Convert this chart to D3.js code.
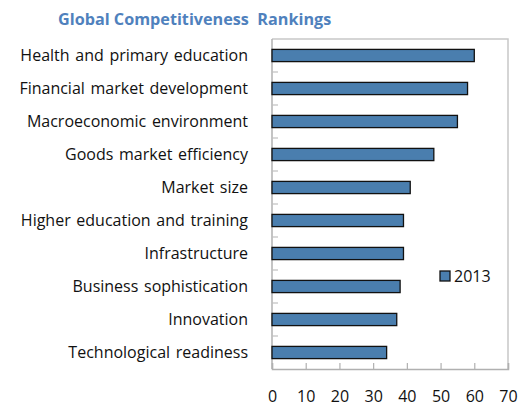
<!DOCTYPE html>
<html><head><meta charset="utf-8">
<script src="https://cdn.jsdelivr.net/npm/d3@7"></script>
<style>body{margin:0;background:#fff}svg{display:block}text{white-space:pre}</style>
</head><body><div id="chart"></div>
<script>
const categories = ["Health and primary education","Financial market development","Macroeconomic environment","Goods market efficiency","Market size","Higher education and training","Infrastructure","Business sophistication","Innovation","Technological readiness"];
const values2013 = [60,58,55,48,41,39,39,38,37,34];
const xTicks = [0,10,20,30,40,50,60,70];
const seriesName = "2013";
const title = "Global Competitiveness  Rankings";

const W=520,H=407;
const m={left:272,right:12,top:39,bottom:38};
const svg=d3.select("#chart").append("svg").attr("width",W).attr("height",H);
const font="'Open Sans', 'Noto Sans', sans-serif";
const x=d3.scaleLinear().domain([0,70]).range([m.left,W-m.right]);
const y=d3.scaleBand().domain(categories).range([m.top,H-m.bottom]).paddingInner(0.63).paddingOuter(0.315);

svg.append("text").attr("x",58).attr("y",25).attr("font-family",font).attr("font-weight","bold")
 .attr("font-size",16.2).attr("fill","#4f81bd").text(title);

// frame top/right
svg.append("path").attr("d",`M${x(0)},${m.top}H${x(70)}V${H-m.bottom}`).attr("fill","none").attr("stroke","#c8c8c8").attr("stroke-width",1.5);

// left axis with band-boundary ticks
const g=svg.append("g");
g.append("line").attr("x1",x(0)).attr("x2",x(0)).attr("y1",m.top).attr("y2",H-m.bottom).attr("stroke","#b0b0b0").attr("stroke-width",1.5);
const step=y.step();
g.selectAll(".yt").data(categories.slice(1)).enter().append("line")
 .attr("x1",x(0)).attr("x2",x(0)+6)
 .attr("y1",d=>y(d)-(step-y.bandwidth())/2).attr("y2",d=>y(d)-(step-y.bandwidth())/2)
 .attr("stroke","#c0c0c0").attr("stroke-width",1.2);

// bottom axis
const xa=d3.axisBottom(x).tickValues(xTicks).tickSize(-6).tickPadding(21);
const ax=svg.append("g").attr("transform",`translate(0,${H-m.bottom})`).call(xa);
ax.select(".domain").attr("stroke","#b0b0b0").attr("stroke-width",1.5);
ax.selectAll(".tick line").attr("stroke","#b0b0b0").attr("stroke-width",1.2);
ax.selectAll("text").attr("font-family",font).attr("font-size",16).attr("fill","#111").attr("dy","0.75em");

// bars
svg.selectAll(".bar").data(categories).enter().append("rect")
 .attr("x",x(0)).attr("y",d=>y(d)).attr("width",(d,i)=>x(values2013[i])-x(0)).attr("height",y.bandwidth())
 .attr("fill","#4a7eae").attr("stroke","#111").attr("stroke-width",1.3);

// category labels
svg.selectAll(".lab").data(categories).enter().append("text")
 .attr("x",248).attr("y",d=>y(d)+y.bandwidth()/2).attr("dy","0.35em").attr("text-anchor","end")
 .attr("font-family",font).attr("font-size",16).attr("word-spacing",1.5).attr("fill","#111").text(d=>d);

// legend
svg.append("rect").attr("x",440).attr("y",271).attr("width",10).attr("height",10).attr("fill","#4a7eae").attr("stroke","#111").attr("stroke-width",1.3);
svg.append("text").attr("x",454).attr("y",276).attr("dy","0.35em").attr("font-family",font).attr("font-size",16).attr("fill","#111").text(seriesName);
</script></body></html>
